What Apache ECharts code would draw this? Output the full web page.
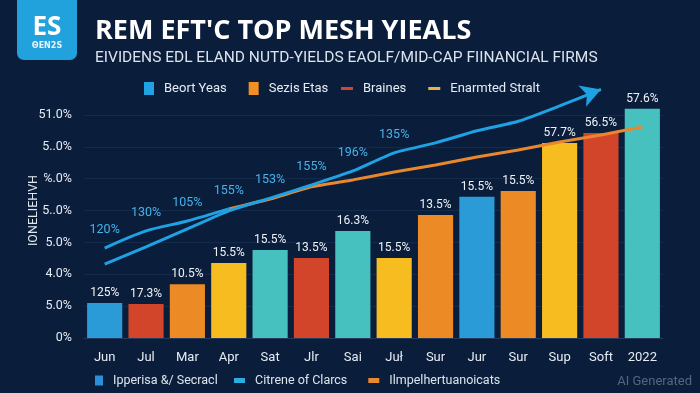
<!DOCTYPE html>
<html>
<head>
<meta charset="utf-8">
<script src="https://cdn.jsdelivr.net/npm/echarts@6/dist/echarts.min.js"></script>
<style>
  html, body { margin: 0; padding: 0; background: #0a1e3c; }
  #chart { width: 700px; height: 393px; }
</style>
</head>
<body>
<div id="chart"></div>
<script>
// ---- data ----
const categories = ['Jun', 'Jul', 'Mar', 'Apr', 'Sat', 'Jlr', 'Sai', 'Juł', 'Sur', 'Jur', 'Sur', 'Sup', 'Soft', '2022'];
const yTickLabels = ['0%', '5.0%', '4.0%', '5.0%', '5..0%', '℅.0%', '5..0%', '51.0%'];
const barValues = [1.10, 1.07, 1.69, 2.35, 2.76, 2.51, 3.36, 2.51, 3.86, 4.43, 4.61, 6.12, 6.43, 7.19];
const barLabels = ['125%', '17.3%', '10.5%', '15.5%', '15.5%', '13.5%', '16.3%', '15.5%', '13.5%', '15.5%', '15.5%', '57.7%', '56.5%', '57.6%'];
const arrowLineValues = [2.32, 2.86, 3.42, 3.99, 4.39, 4.80, 5.24, 5.81, 6.12, 6.50, 6.80, 7.28, 7.80, null];
const upperLineValues = [2.82, 3.36, 3.67, 4.05, null, null, null, null, null, null, null, null, null, null];
const trendLineValues = [null, null, null, 4.05, 4.36, 4.74, 4.96, 5.21, 5.43, 5.68, 5.90, 6.15, 6.37, 6.62];
const lineLabels = ['120%', '130%', '105%', '155%', '153%', '155%', '196%', '135%'];
const topRectLegend = ['Beort Yeas', 'Sezis Etas'];
const topLineLegend = ['Braines', 'Enarmted Stralt'];
const bottomRectLegend = ['Ipperisa &/ Secracl'];
const bottomLineLegend = ['Citrene of Clarcs', 'Ilmpelhertuanoicats'];
const titleText = "REM EFT'C TOP MESH YIEALS";
const subtitleText = 'EIVIDENS EDL ELAND NUTD-YIELDS EAOLF/MID-CAP FIINANCIAL FIRMS';
const yAxisName = 'IONELIEHVH';

// ---- styles ----
const C = { blue: '#2b9bd8', red: '#d2452a', orange: '#ec8a25', yellow: '#f7bc1f', teal: '#46c1bf' };
const barColors = [C.blue, C.red, C.orange, C.yellow, C.teal, C.red, C.teal, C.yellow, C.orange, C.blue, C.orange, C.yellow, C.red, C.teal];
const lineBlue = '#1fa2e4';
const lineOrange = '#e8872b';
const labelBlue = '#45b2ea';
const textColor = '#e6ecf3';
const splitIdx = 4; // labels from this index come from the arrow line
const arrowTip = 12;
const yMax = 8;
const gridColors = ['#142a4b', '#142a4b', '#142a4b', '#142a4b', '#142a4b', '#142a4b', '#142a4b', '#142a4b', 'rgba(0,0,0,0)'];

const chart = echarts.init(document.getElementById('chart'));

const arrowData = arrowLineValues.map((v, i) => i === arrowTip
  ? { value: v, symbol: 'arrow', symbolSize: [17, 20], symbolRotate: -70, itemStyle: { color: lineBlue } }
  : v);

const legendText = { color: textColor, fontSize: 13, padding: [0, 0, 0, 5] };
const bottomText = { color: '#dde4ec', fontSize: 12.5, padding: [0, 0, 0, 5] };

const option = {
  backgroundColor: '#0a1e3c',
  textStyle: { fontFamily: 'Roboto' },
  title: {
    text: titleText,
    subtext: subtitleText,
    left: 90,
    top: 13,
    itemGap: 5,
    textStyle: { color: '#ffffff', fontSize: 27, fontWeight: 'bold', fontFamily: 'Open Sans' },
    subtextStyle: { color: '#dbe3ec', fontSize: 15.5, fontFamily: 'Roboto' }
  },
  graphic: [
    { type: 'rect', left: 17, top: -8, shape: { width: 60, height: 68, r: 7 }, style: { fill: '#22a2dc' }, z: 10 },
    { type: 'text', x: 47, y: 28, style: { text: 'ES', fill: '#ffffff', font: 'bold 26px "Open Sans"', align: 'center', verticalAlign: 'middle' }, z: 11 },
    { type: 'text', x: 47, y: 46, style: { text: 'ΘEN2S', fill: '#e8f4fb', font: 'bold 8px "DejaVu Sans"', align: 'center', verticalAlign: 'middle' }, z: 11 },
    { type: 'text', right: 8, bottom: 5, style: { text: 'AI Generated', fill: '#55667d', font: '13px Roboto' }, z: 11 }
  ],
  legend: [
    { data: topRectLegend, icon: 'rect', left: 139, top: 77, itemWidth: 10, itemHeight: 13, itemGap: 22, textStyle: legendText },
    { data: topLineLegend, icon: 'rect', left: 336, top: 77, itemWidth: 12, itemHeight: 3, itemGap: 22, textStyle: legendText },
    { data: bottomRectLegend, icon: 'rect', left: 90, top: 369, itemWidth: 8, itemHeight: 10, itemGap: 20, textStyle: bottomText },
    { data: bottomLineLegend, icon: 'rect', left: 229, top: 369, itemWidth: 11, itemHeight: 5, itemGap: 21, textStyle: bottomText }
  ],
  grid: { left: 84, right: 37, top: 83, bottom: 55 },
  xAxis: {
    type: 'category',
    data: categories,
    axisLine: { show: true, lineStyle: { color: '#243a5a' } },
    axisTick: { show: false },
    axisLabel: { color: textColor, fontSize: 13, margin: 13 }
  },
  yAxis: {
    type: 'value',
    min: 0,
    max: yMax,
    interval: 1,
    name: yAxisName,
    nameLocation: 'middle',
    nameRotate: 90,
    nameGap: 43.5,
    nameMoveOverlap: false,
    nameTextStyle: { color: '#dfe6ee', fontSize: 12.5 },
    axisLine: { show: false },
    axisTick: { show: false },
    splitLine: { lineStyle: { color: gridColors, width: 1 } },
    axisLabel: {
      color: textColor,
      fontSize: 12.5,
      margin: 12,
      formatter: (v) => yTickLabels[Math.round(v)] ?? ''
    }
  },
  series: [
    {
      type: 'bar',
      name: 'values',
      data: barValues,
      barCategoryGap: '15%',
      itemStyle: { color: (p) => barColors[p.dataIndex] },
      label: {
        show: true,
        position: 'top',
        distance: 4,
        color: '#eef2f6',
        fontSize: 12,
        formatter: (p) => barLabels[p.dataIndex]
      },
      z: 2
    },
    {
      type: 'line',
      name: 'trend',
      data: trendLineValues,
      smooth: 0.15,
      symbol: 'none',
      lineStyle: { color: lineOrange, width: 3 },
      z: 3
    },
    {
      type: 'line',
      name: 'upper',
      data: upperLineValues,
      smooth: 0.3,
      symbol: 'circle',
      symbolSize: 1,
      showSymbol: true,
      itemStyle: { color: 'rgba(0,0,0,0)' },
      lineStyle: { color: lineBlue, width: 3 },
      label: {
        show: true,
        position: 'top',
        distance: 11,
        color: labelBlue,
        fontSize: 12.5,
        formatter: (p) => (p.dataIndex < splitIdx ? lineLabels[p.dataIndex] : '')
      },
      z: 4
    },
    {
      type: 'line',
      name: 'arrow',
      data: arrowData,
      smooth: 0.2,
      symbol: 'circle',
      symbolSize: 1,
      showSymbol: true,
      itemStyle: { color: 'rgba(0,0,0,0)' },
      lineStyle: { color: lineBlue, width: 3 },
      label: {
        show: true,
        position: 'top',
        distance: 11,
        color: labelBlue,
        fontSize: 12.5,
        formatter: (p) => (p.dataIndex >= splitIdx && p.dataIndex < lineLabels.length ? lineLabels[p.dataIndex] : '')
      },
      z: 5
    },
    // legend entries (no marks)
    { type: 'line', name: topRectLegend[0], data: [], itemStyle: { color: '#1fa3e3' } },
    { type: 'line', name: topRectLegend[1], data: [], itemStyle: { color: '#f08f22' } },
    { type: 'line', name: topLineLegend[0], data: [], itemStyle: { color: '#d5452d' } },
    { type: 'line', name: topLineLegend[1], data: [], itemStyle: { color: '#e9b246' } },
    { type: 'line', name: bottomRectLegend[0], data: [], itemStyle: { color: '#2a8fd6' } },
    { type: 'line', name: bottomLineLegend[0], data: [], itemStyle: { color: '#2aaee0' } },
    { type: 'line', name: bottomLineLegend[1], data: [], itemStyle: { color: '#ea8a2a' } }
  ]
};

chart.setOption(option);
</script>
</body>
</html>
